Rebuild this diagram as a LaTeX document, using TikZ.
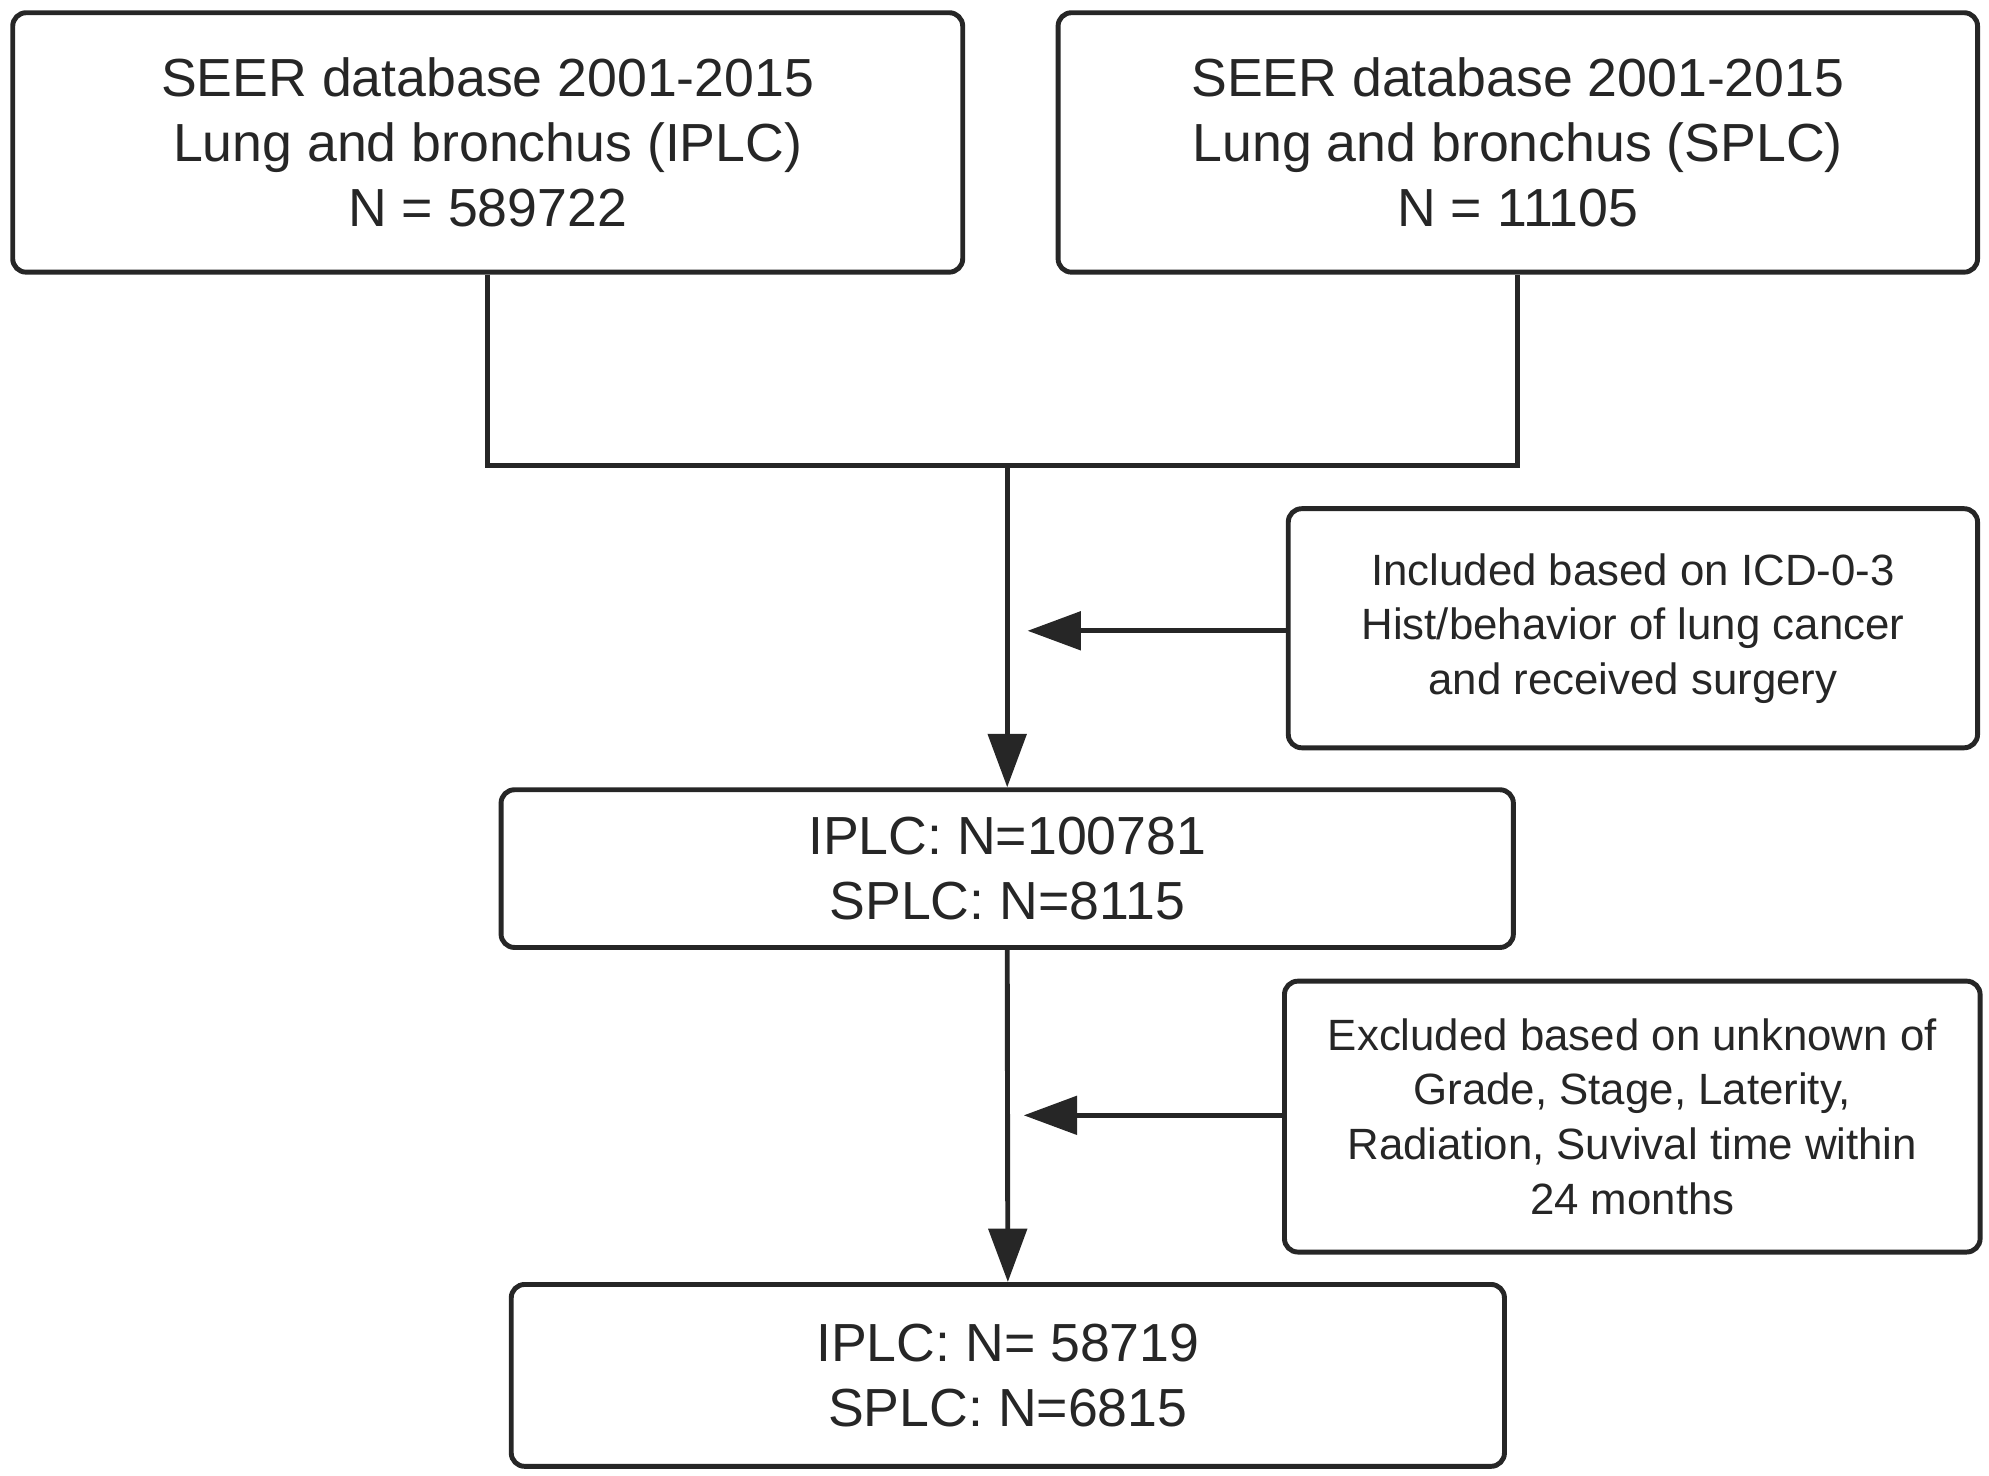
\documentclass[tikz,border=0pt]{standalone}
\usepackage{fontspec}
\setmainfont{Liberation Sans}
\usetikzlibrary{arrows.meta}
\definecolor{ink}{HTML}{262626}

\tikzset{
  bigbox/.style={draw=ink, line width=1.1pt, rounded corners=3pt, align=center, text=ink, inner sep=0pt, font=\fontsize{12}{14.6}\selectfont},
  smallbox/.style={bigbox, font=\fontsize{9.8}{12.2}\selectfont},
  flow/.style={draw=ink, line width=1.1pt, -{Triangle[length=4.2mm,width=3mm]}}
}

\begin{document}
\begin{tikzpicture}

\useasboundingbox (0,0) rectangle (15.64,-11.6);

\node[bigbox, minimum width=7.47cm, minimum height=2.04cm] (iplc) at (3.835,-1.12) {SEER database 2001-2015\\Lung and bronchus (IPLC)\\N = 589722};
\node[bigbox, minimum width=7.23cm, minimum height=2.04cm] (splc) at (11.935,-1.12) {SEER database 2001-2015\\Lung and bronchus (SPLC)\\N = 11105};

\node[smallbox, minimum width=5.42cm, minimum height=1.88cm] (incl) at (12.84,-4.94) {Included based on ICD-0-3\\Hist/behavior of lung cancer\\and received surgery};
\node[bigbox, minimum width=7.96cm, minimum height=1.24cm] (mid) at (7.92,-6.83) {IPLC: N=100781\\SPLC: N=8115};

\node[smallbox, minimum width=5.47cm, minimum height=2.13cm] (excl) at (12.835,-8.78) {Excluded based on unknown of\\Grade, Stage, Laterity,\\Radiation, Suvival time within\\24 months};
\node[bigbox, minimum width=7.81cm, minimum height=1.43cm] (final) at (7.925,-10.815) {IPLC: N= 58719\\SPLC: N=6815};

\coordinate (join) at (7.92,-3.66);
\coordinate (inclTip) at (8.08,-4.96);
\coordinate (exclTip) at (8.05,-8.77);

\draw[ink, line width=1.1pt] (iplc.south) |- (join) -| (splc.south);
\draw[flow] (join) -- (mid.north);
\draw[flow] (incl.west |- inclTip) -- (inclTip);
\draw[flow] (mid.south) -- (final.north);
\draw[flow] (excl.west |- exclTip) -- (exclTip);

\end{tikzpicture}
\end{document}
